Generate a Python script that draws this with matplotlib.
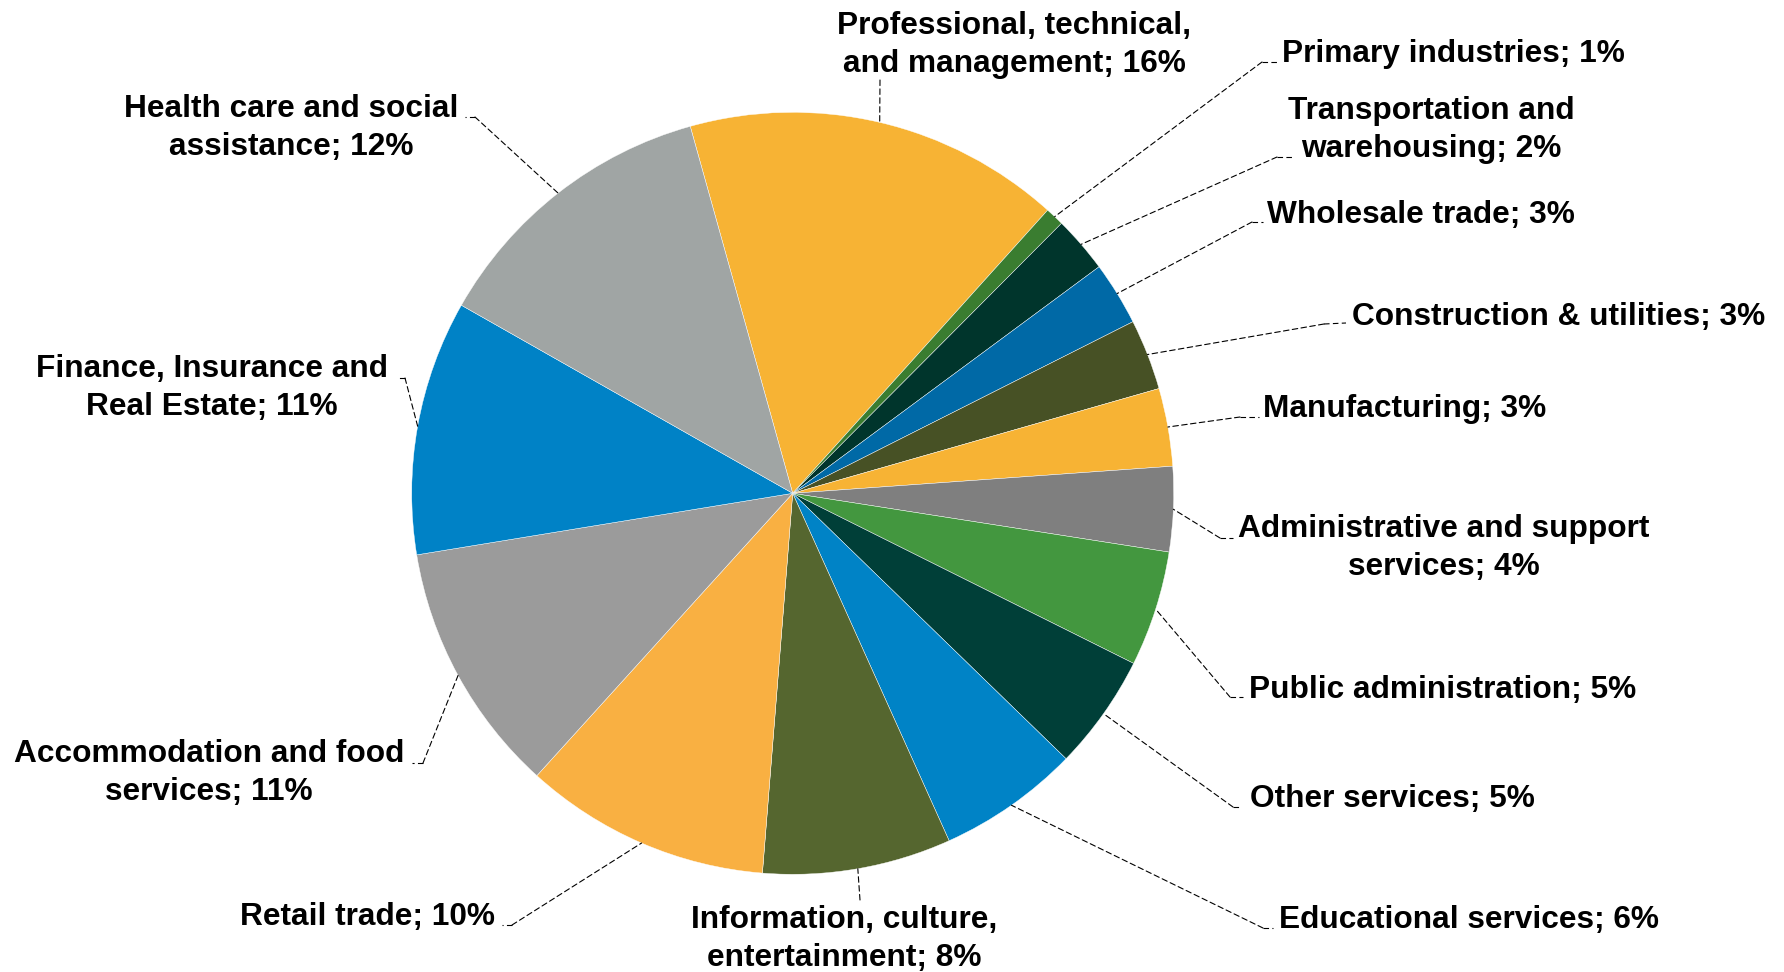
import matplotlib
matplotlib.use("Agg")
import numpy as np
import matplotlib.pyplot as plt
from matplotlib.lines import Line2D

# Employment share by industry (per cent), clockwise from the top
sectors = [
    "Professional, technical,\nand management",
    "Primary industries",
    "Transportation and\nwarehousing",
    "Wholesale trade",
    "Construction & utilities",
    "Manufacturing",
    "Administrative and support\nservices",
    "Public administration",
    "Other services",
    "Educational services",
    "Information, culture,\nentertainment",
    "Retail trade",
    "Accommodation and food\nservices",
    "Finance, Insurance and\nReal Estate",
    "Health care and social\nassistance",
]
shares = [16.0, 0.8, 2.4, 2.7, 3.0, 3.3, 3.6, 4.9, 4.9, 6.0, 8.0, 10.45, 10.7, 10.8, 12.45]
colors = [
    "#F7B334", "#3A7D30", "#00352C", "#0069A6", "#475125",
    "#F7B334", "#7F7F7F", "#43973F", "#003F38", "#0083C6",
    "#55662F", "#F9B042", "#9B9B9B", "#0082C6", "#A0A5A4",
]

# Label placement in pixels (y measured from the top edge):
# text centre x, baseline y of the last line, leader elbow, leader end
label_layout = [
    (1014, 72, (880, 80), None),
    (1453, 62, (1262, 62), (1277, 62)),
    (1431, 157, (1277, 157), (1292, 157)),
    (1421, 223, (1252, 222), (1263, 222)),
    (1559, 325, (1324, 324), (1346, 323)),
    (1405, 417, (1240, 417), (1259, 417)),
    (1444, 575, (1220, 538), (1233, 538)),
    (1443, 698, (1230, 697), (1243, 697)),
    (1392, 807, (1233, 807), (1241, 807)),
    (1469, 928, (1263, 928), (1273, 928)),
    (844, 966, (860, 900), None),
    (368, 925, (512, 925), (502, 925)),
    (209, 800, (423, 763), (412, 763)),
    (212, 415, (405, 378), (397, 378)),
    (291, 155, (475, 117), (465, 117)),
]

W, H = 1784, 972
fig = plt.figure(figsize=(W / 100, H / 100), dpi=100)
fig.patch.set_facecolor("white")


def fig_xy(x, y_top):
    return x / W, 1 - y_top / H


# pie geometry in pixels
cx, cy, R = 792.7, 493.3, 381.0
pad = 1.02
ax = fig.add_axes([(cx - R * pad) / W, (H - cy - R * pad) / H,
                   2 * R * pad / W, 2 * R * pad / H])
wedges, _ = ax.pie(
    shares, colors=colors, startangle=105.6, counterclock=False, radius=1.0,
    wedgeprops=dict(edgecolor="white", linewidth=0.3),
)
ax.set_xlim(-pad, pad)
ax.set_ylim(-pad, pad)
ax.set_aspect("equal")
ax.axis("off")

dash = (0, (5, 3))
for wedge, name, share, (tx, ty, elbow, end) in zip(wedges, sectors, shares, label_layout):
    mid = np.deg2rad((wedge.theta1 + wedge.theta2) / 2)
    edge = (np.cos(mid), np.sin(mid))
    ax.annotate(
        "", xy=edge, xycoords="data",
        xytext=fig_xy(*elbow), textcoords="figure fraction",
        arrowprops=dict(arrowstyle="-", color="black", lw=0.8, linestyle=dash,
                        shrinkA=0, shrinkB=0),
        annotation_clip=False,
    )
    if end is not None:
        x0, y0 = fig_xy(*elbow)
        x1, y1 = fig_xy(*end)
        fig.add_artist(Line2D([x0, x1], [y0, y1], transform=fig.transFigure,
                              color="black", lw=0.8, linestyle=dash))
    fx, fy = fig_xy(tx, ty)
    fig.text(fx, fy, f"{name}; {share:.0f}%", ha="center", va="baseline",
             multialignment="center", fontsize=22.8, fontweight="bold",
             family="Liberation Sans", linespacing=1.36, color="black")

fig.savefig("out.png", dpi=100, facecolor="white")
